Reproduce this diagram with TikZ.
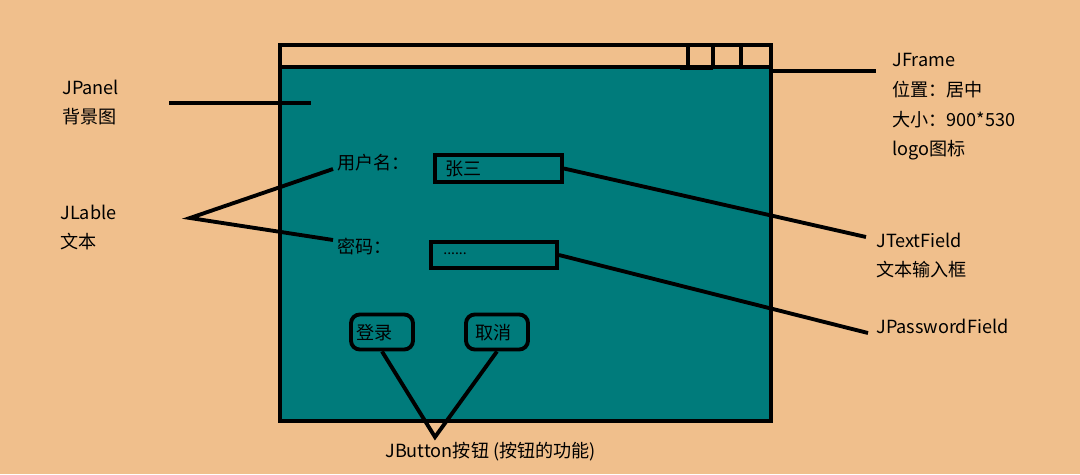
\documentclass[tikz,border=0pt]{standalone}
\usepackage{fontspec}
\setmainfont{Noto Sans CJK SC}
\definecolor{bg}{HTML}{F0BF8C}
\definecolor{panel}{HTML}{007B7B}
\begin{document}
\begin{tikzpicture}[x=0.02cm,y=-0.02cm,
  line/.style={draw=black,line width=2.2pt},
  lbl/.style={anchor=west,inner sep=0pt,font=\fontsize{10.3pt}{12pt}\selectfont,text=black},
  field/.style={draw=black,line width=2.2pt},
  btn/.style={draw=black,line width=2.2pt,rounded corners=5pt}]
\useasboundingbox (0,0) rectangle (1080,474);
\fill[bg] (0,0) rectangle (1080,474);
% frame
\fill[panel] (280,67) rectangle (771,421);
\draw[line] (280,45) rectangle (771,421);
\draw[line] (280,67) -- (771,67);
\draw[line] (688,45) -- (688,67) (713,45) -- (713,67) (741,45) -- (741,67);
\draw[line] (680,68.5) -- (713,68.5);
% right labels
\node[lbl] (jframe) at (892,60) {JFrame};
\node[lbl] at (892,90) {位置：居中};
\node[lbl] at (892,120) {大小：900*530};
\node[lbl] at (892,150) {logo图标};
\coordinate (fr) at (771,71);
\coordinate (frend) at (876,71);
\draw[line] (fr) -- (frend);
% JPanel
\node[lbl] (jpanel) at (62,87) {JPanel};
\node[lbl] at (62,117) {背景图};
\coordinate (p1) at (169,103);
\coordinate (p2) at (311,103);
\draw[line] (p1) -- (p2);
% JLable
\node[lbl] (jlable) at (60,212) {JLable};
\node[lbl] at (60,242) {文本};
\coordinate (lv) at (190,218);
\node[lbl] (user) at (337,163) {用户名：};
\node[lbl] (pwd) at (337,247) {密码：};
\draw[line] (333,169) -- (lv) -- (333,240);
% fields
\node[field,minimum width=127*0.02cm,minimum height=27*0.02cm,inner sep=0pt] (tf) at (498.5,168.5) {};
\node[lbl] at (445,169) {张三};
\node[field,minimum width=126*0.02cm,minimum height=26*0.02cm,inner sep=0pt] (pf) at (494,255) {};
\node[lbl,font=\fontsize{8pt}{10pt}\selectfont] at (443,254) {......};
\node[lbl] (jtf) at (876,240) {JTextField};
\node[lbl] at (876,270) {文本输入框};
\node[lbl] (jpf) at (876,326) {JPasswordField};
\coordinate (tfend) at (866,237);
\coordinate (pfend) at (868,333);
\draw[line] (tf.east) -- (tfend);
\draw[line] (pf.east) -- (pfend);
% buttons
\node[btn,minimum width=62*0.02cm,minimum height=35*0.02cm,inner sep=0pt] (login) at (382,332) {};
\node[lbl] at (356,333) {登录};
\node[btn,minimum width=62*0.02cm,minimum height=35*0.02cm,inner sep=0pt] (cancel) at (497,332) {};
\node[lbl] at (475,333) {取消};
\coordinate (bv) at (435,437);
\draw[line] (login.south) -- (bv) -- (cancel.south);
\node[lbl] (jbtn) at (385,452) {JButton按钮 (按钮的功能)};
\end{tikzpicture}
\end{document}
